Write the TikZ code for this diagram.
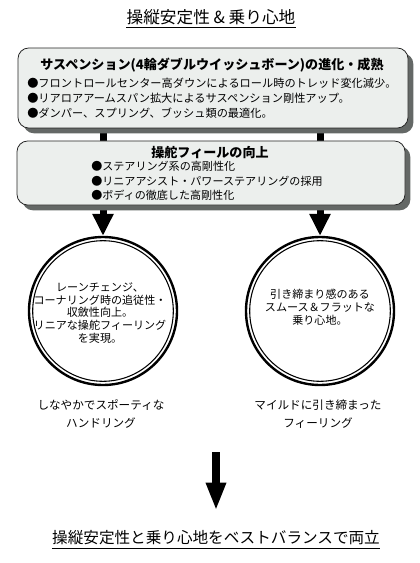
\documentclass[tikz,border=0pt]{standalone}
\usepackage{fontspec}
\setmainfont{Noto Sans CJK JP}
\usepackage{tikz}
\usetikzlibrary{arrows.meta,positioning,backgrounds,shadows}
\definecolor{panelgray}{RGB}{236,239,237}
\definecolor{shadowgray}{RGB}{100,104,102}

\begin{document}
\begin{tikzpicture}[x=0.75pt,y=-0.75pt,
  panel/.style={draw=black!85, fill=panelgray, line width=0.6pt, rounded corners=8pt,
    drop shadow={shadow xshift=4pt, shadow yshift=-4pt, fill=shadowgray, opacity=1}},
  headtext/.style={font=\bfseries\fontsize{9.8pt}{12pt}\selectfont, inner sep=0pt},
  listtext/.style={align=left, inner sep=0pt},
  ring/.style={circle, draw, line width=1.8pt, minimum size=111pt, fill=white},
  ringtext/.style={align=center, inner sep=0pt, font=\fontsize{8.3pt}{9.6pt}\selectfont},
  caption/.style={align=center, inner sep=0pt, font=\fontsize{8.7pt}{13.5pt}\selectfont},
  bigarrow/.style={line width=5.25pt, -{Triangle[width=15pt,length=16.5pt]}},
  downarrow/.style={line width=6pt, -{Triangle[width=14pt,length=21pt]}}]
\useasboundingbox (0,0) rectangle (420,563);

% title
\node[inner sep=0pt, font=\fontsize{12.5pt}{14pt}\selectfont] (title) at (211,17) {操縦安定性 \& 乗り心地};
\draw[line width=0.7pt] ([yshift=-2pt]title.south west) -- ([yshift=-2pt]title.south east);

% suspension panel
\node[panel, minimum width=292.5pt, minimum height=60pt] (susp) at (213,88) {};
\node[headtext] (suspT) at (212,65) {サスペンション(4輪ダブルウイッシュボーン)の進化・成熟};
\node[listtext, anchor=west, font=\fontsize{8.4pt}{11.25pt}\selectfont] (suspL) at (27,98)
  {●フロントロールセンター高ダウンによるロール時のトレッド変化減少。\\
   ●リアロアアームスパン拡大によるサスペンション剛性アップ。\\
   ●ダンパー、スプリング、ブッシュ類の最適化。};

% steering panel
\node[panel, minimum width=291pt, minimum height=48pt] (feel) at (211,173) {};
\node[headtext] (feelT) at (210,153) {操舵フィールの向上};
\node[listtext, anchor=west, font=\fontsize{8.3pt}{10.9pt}\selectfont] (feelL) at (91,181)
  {●ステアリング系の高剛性化\\
   ●リニアアシスト・パワーステアリングの採用\\
   ●ボディの徹底した高剛性化};

% result circles
\node[ring] (c1) at (103,311) {};
\draw[line width=0.8pt] (c1.center) circle (70.3);
\node[ringtext] (t1) at (100,313) {レーンチェンジ、\\コーナリング時の追従性・\\収斂性向上。\\リニアな操舵フィーリング\\を実現。};
\node[ring] (c2) at (320,311) {};
\draw[line width=0.8pt] (c2.center) circle (70.3);
\node[ringtext] (t2) at (320,307) {引き締まり感のある\\スムース＆フラットな\\乗り心地。};

\node[caption] (lab1) at (101,414) {しなやかでスポーティな\\ハンドリング};
\node[caption] (lab2) at (318,414) {マイルドに引き締まった\\フィーリング};

\begin{scope}[on background layer]
  \draw[bigarrow] (susp.center -| c1.north) -- (c1.north);
  \draw[bigarrow] (susp.center -| c2.north) -- (c2.north);
\end{scope}

% conclusion
\coordinate (join) at (216,452);
\node[inner sep=0pt, font=\fontsize{11.7pt}{14pt}\selectfont] (goal) at (216,538) {操縦安定性と乗り心地をベストバランスで両立};
\draw[line width=0.7pt] ([yshift=-2.5pt]goal.south west) -- ([yshift=-2.5pt]goal.south east);
\draw[downarrow] (join) -- ([yshift=15pt]goal.north);
\end{tikzpicture}
\end{document}
